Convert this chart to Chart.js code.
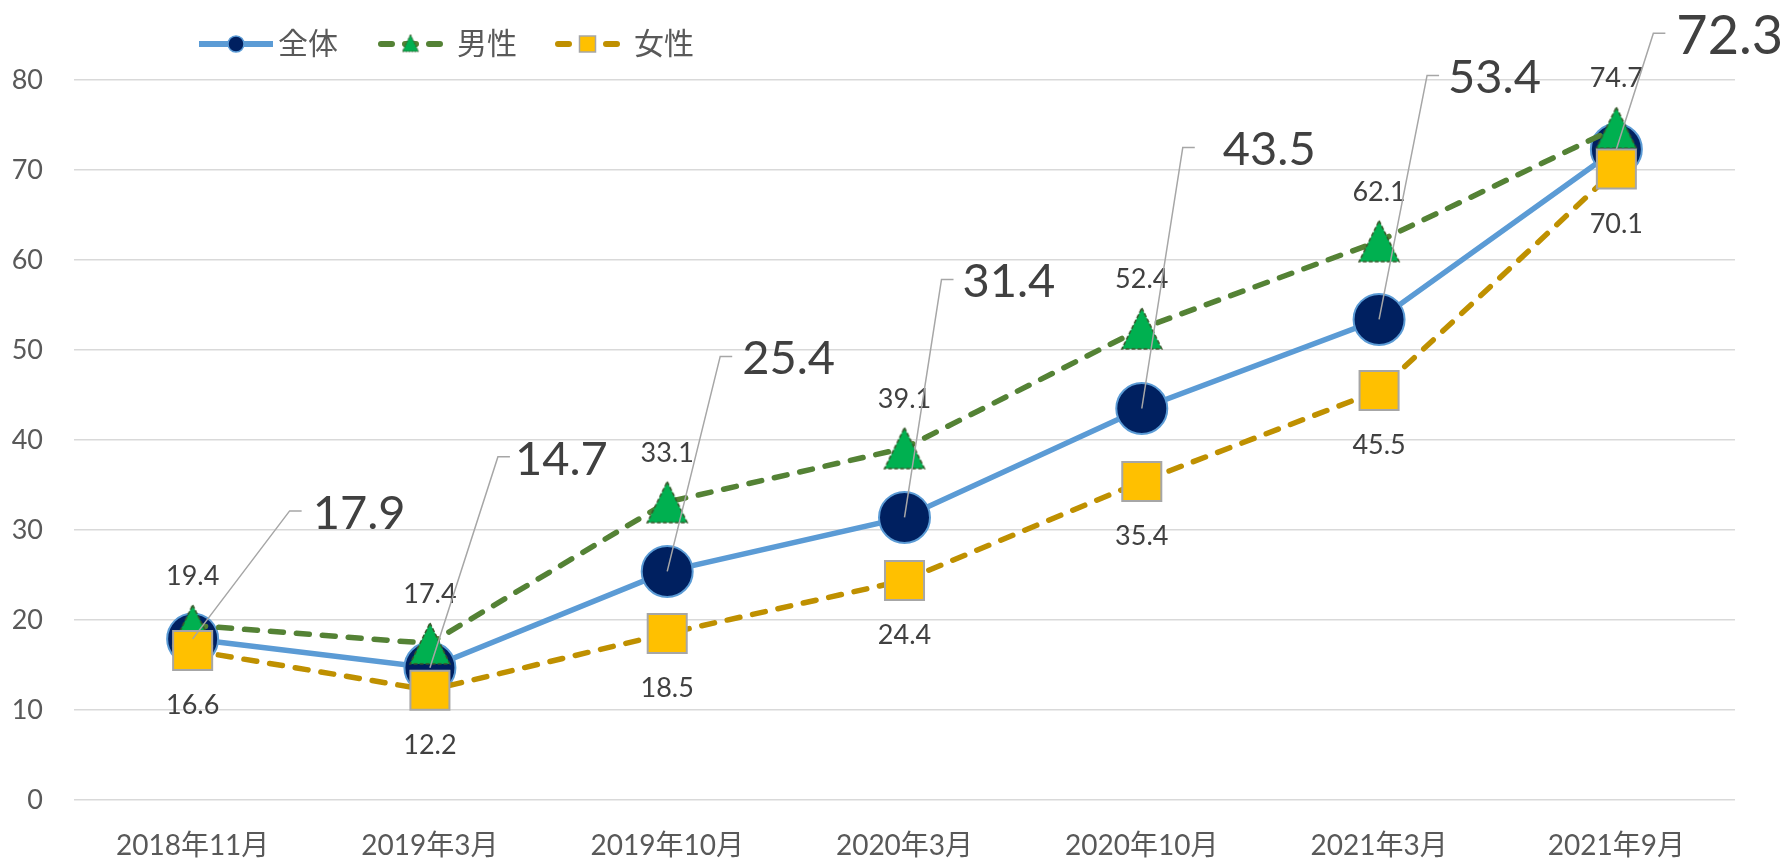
<!DOCTYPE html>
<html><head><meta charset="utf-8">
<script src="https://cdn.jsdelivr.net/npm/chart.js@4.4.1/dist/chart.umd.min.js"></script>
<style>html,body{margin:0;padding:0;background:#fff;} #wrap{width:1788px;height:861px;}</style>
</head><body><div id="wrap"><canvas id="c" width="1788" height="861"></canvas></div>
<script>
// ---- data ----
const categories = ['2018年11月','2019年3月','2019年10月','2020年3月','2020年10月','2021年3月','2021年9月'];
const seriesNames = ['全体','男性','女性'];
const totalValues = [17.9, 14.7, 25.4, 31.4, 43.5, 53.4, 72.3];
const maleValues = [19.4, 17.4, 33.1, 39.1, 52.4, 62.1, 74.7];
const femaleValues = [16.6, 12.2, 18.5, 24.4, 35.4, 45.5, 70.1];
const yTickValues = [0, 10, 20, 30, 40, 50, 60, 70, 80];

// ---- label layout (offsets from each point: text left dx, text centre dy, elbow dx) ----
const totalLabelLayout = [[120,-127,97],[85,-210,68],[75,-214,53],[58,-237,37],[81,-260,41],[69,-243,48],[60,-115,37]];
const totalLabelSize = [47,47,47,47,47,47,54];

const NUM_FONT = "Lato, 'Noto Sans CJK JP', sans-serif";
const JP_FONT = "'Noto Sans CJK JP', sans-serif";

function makeTriangle(w, h, lw, dash) {
  const pad = Math.ceil(lw) + 1;
  const c = document.createElement('canvas');
  c.width = w + 2 * pad; c.height = h + 2 * pad;
  const g = c.getContext('2d');
  g.beginPath();
  g.moveTo(pad + w / 2, pad);
  g.lineTo(pad + w, pad + h);
  g.lineTo(pad, pad + h);
  g.closePath();
  g.fillStyle = '#00B050'; g.fill();
  g.lineWidth = lw; g.strokeStyle = '#38562A'; g.setLineDash(dash); g.stroke();
  return c;
}
const bigTriangle = makeTriangle(40, 41, 1.5, [4, 2]);
const smallTriangle = makeTriangle(16, 17, 1, [2, 1]);

const legendPlugin = {
  id: 'customLegend',
  afterDraw(chart) {
    const ctx = chart.ctx;
    const y = 44;
    const items = [
      {x0: 199, x1: 273, tx: 278, ds: 0},
      {x0: 378, x1: 443, tx: 457, ds: 1},
      {x0: 555, x1: 620, tx: 634, ds: 2}
    ];
    items.forEach(it => {
      const d = chart.data.datasets[it.ds];
      ctx.save();
      ctx.strokeStyle = d.borderColor;
      ctx.lineWidth = 6;
      if (d.borderDash) {
        ctx.lineCap = 'round';
        ctx.setLineDash([11, 13]);
        ctx.beginPath(); ctx.moveTo(it.x0 + 3, y); ctx.lineTo(it.x1 - 3, y); ctx.stroke();
      } else {
        ctx.lineCap = 'butt';
        ctx.beginPath(); ctx.moveTo(it.x0, y); ctx.lineTo(it.x1, y); ctx.stroke();
      }
      ctx.setLineDash([]);
      const cx = (it.x0 + it.x1) / 2;
      if (it.ds === 0) {
        ctx.beginPath(); ctx.arc(cx, y, 8, 0, Math.PI * 2);
        ctx.fillStyle = d.pointBackgroundColor; ctx.fill();
        ctx.lineWidth = 1.5; ctx.strokeStyle = d.pointBorderColor; ctx.stroke();
      } else if (it.ds === 1) {
        ctx.drawImage(smallTriangle, cx - smallTriangle.width / 2, y - smallTriangle.height / 2 - 1);
      } else {
        ctx.fillStyle = d.pointBackgroundColor;
        ctx.fillRect(cx - 8, y - 8, 16, 16);
        ctx.lineWidth = 1.5; ctx.strokeStyle = d.pointBorderColor;
        ctx.strokeRect(cx - 8, y - 8, 16, 16);
      }
      ctx.font = '30px ' + JP_FONT;
      ctx.fillStyle = '#595959';
      ctx.textAlign = 'left'; ctx.textBaseline = 'middle';
      ctx.fillText(d.label, it.tx, y - 1);
      ctx.restore();
    });
  }
};

const labelPlugin = {
  id: 'valueLabels',
  afterDatasetsDraw(chart) {
    const ctx = chart.ctx;
    ctx.save();
    ctx.fillStyle = '#404040';
    ctx.textBaseline = 'alphabetic';
    ctx.textAlign = 'center';
    ctx.font = '27px ' + NUM_FONT;
    chart.getDatasetMeta(1).data.forEach((p, i) => {
      ctx.fillText(maleValues[i].toFixed(1), p.x, p.y - 50 + 27 * 0.3585);
    });
    chart.getDatasetMeta(2).data.forEach((p, i) => {
      ctx.fillText(femaleValues[i].toFixed(1), p.x, p.y + 54 + 27 * 0.3585);
    });
    chart.getDatasetMeta(0).data.forEach((p, i) => {
      const [dx, dy, ex] = totalLabelLayout[i];
      const cy = p.y + dy;
      ctx.beginPath();
      ctx.moveTo(p.x, p.y);
      ctx.lineTo(p.x + ex, cy - 1);
      ctx.lineTo(p.x + ex + 12, cy - 1);
      ctx.strokeStyle = '#A6A6A6'; ctx.lineWidth = 1.5; ctx.stroke();
      const s = totalLabelSize[i];
      ctx.font = s + 'px ' + NUM_FONT;
      ctx.textAlign = 'left';
      ctx.fillText(totalValues[i].toFixed(1), p.x + dx, cy + s * 0.3585);
    });
    ctx.restore();
  }
};

new Chart(document.getElementById('c'), {
  type: 'line',
  data: {
    labels: categories,
    datasets: [
      {
        label: seriesNames[0], data: totalValues,
        borderColor: '#5B9BD5', borderWidth: 5.5,
        pointStyle: 'circle', pointRadius: 25.5,
        pointBackgroundColor: '#002060', pointBorderColor: '#5B9BD5', pointBorderWidth: 2,
        order: 3
      },
      {
        label: seriesNames[1], data: maleValues,
        borderColor: '#548235', borderWidth: 5.5, borderDash: [13, 13], borderCapStyle: 'round',
        pointStyle: bigTriangle, pointRadius: 20,
        order: 2
      },
      {
        label: seriesNames[2], data: femaleValues,
        borderColor: '#BF9000', borderWidth: 5.5, borderDash: [13, 13], borderCapStyle: 'round',
        pointStyle: 'rect', pointRadius: 27.6,
        pointBackgroundColor: '#FFC000', pointBorderColor: '#A6A6A6', pointBorderWidth: 2,
        order: 1
      }
    ]
  },
  options: {
    responsive: false, animation: false, devicePixelRatio: 1,
    events: [],
    clip: false,
    layout: { padding: { top: 80, right: 53, left: 0, bottom: 0 } },
    plugins: { legend: { display: false }, tooltip: { enabled: false } },
    scales: {
      x: {
        offset: true,
        grid: { display: false, drawTicks: false, offset: true },
        border: { display: false },
        ticks: { color: '#595959', font: { family: NUM_FONT, size: 28 }, padding: 29, maxRotation: 0, autoSkip: false },
        afterFit(s) { s.height = 61; }
      },
      y: {
        min: 0, max: 80,
        afterBuildTicks(s) { s.ticks = yTickValues.map(v => ({ value: v })); },
        grid: { color: '#D9D9D9', lineWidth: 1.5, drawTicks: false },
        border: { display: false },
        ticks: { color: '#595959', font: { family: NUM_FONT, size: 27 }, padding: 31 },
        afterFit(s) { s.width = 74; }
      }
    }
  },
  plugins: [labelPlugin, legendPlugin]
});
</script>
</body></html>
